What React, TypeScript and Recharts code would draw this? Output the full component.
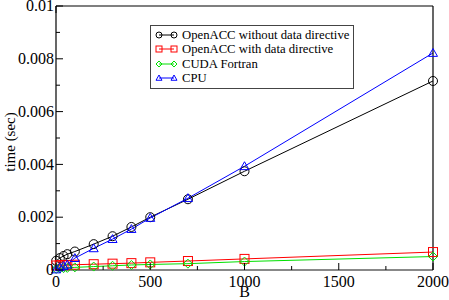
import { Legend, Line, LineChart, XAxis, YAxis } from "recharts";

const B = [1, 20, 40, 60, 100, 200, 300, 400, 500, 700, 1000, 2000];
const noDataDirective = [0.00035, 0.00045, 0.00053, 0.0006, 0.0007, 0.00098, 0.00128, 0.00163, 0.002, 0.00268, 0.00374, 0.00716];
const withDataDirective = [0.00017, 0.00018, 0.00018, 0.00019, 0.0002, 0.00022, 0.00024, 0.00026, 0.00029, 0.00034, 0.00042, 0.00068];
const cudaFortran = [0.00004, 0.00006, 0.00007, 0.00008, 0.0001, 0.00013, 0.00016, 0.00019, 0.00021, 0.00024, 0.00032, 0.00051];
const cpu = [0.00002, 0.0001, 0.00015, 0.0002, 0.00045, 0.00082, 0.00117, 0.00155, 0.00197, 0.00272, 0.00393, 0.00822];

const xMajor = [0, 500, 1000, 1500, 2000];
const xMinor = [250, 750, 1250, 1750];
const yMajor = [0, 0.002, 0.004, 0.006, 0.008, 0.01];
const yMajorLabels = ["0", "0.002", "0.004", "0.006", "0.008", "0.01"];
const yMinor = [0.001, 0.003, 0.005, 0.007, 0.009];

const SERIES = [
  { key: "noData", name: "OpenACC without data directive", color: "#000000", shape: "circle" },
  { key: "withData", name: "OpenACC with data directive", color: "#ff0000", shape: "square" },
  { key: "cuda", name: "CUDA Fortran", color: "#00e000", shape: "diamond" },
  { key: "cpu", name: "CPU", color: "#0000ff", shape: "triangle" }
];

const data = B.map((b, i) => ({
  B: b,
  noData: noDataDirective[i],
  withData: withDataDirective[i],
  cuda: cudaFortran[i],
  cpu: cpu[i]
}));

const FONT = "'Liberation Serif', 'Times New Roman', serif";
const xTicks = [...xMajor, ...xMinor].sort((a, b) => a - b);
const yTicks = [...yMajor, ...yMinor].sort((a, b) => a - b);

function Marker({ shape, color, cx, cy, s }: { shape: string; color: string; cx: number; cy: number; s: number }) {
  if (cx == null || cy == null) return null;
  if (shape === "circle") return <circle cx={cx} cy={cy} r={s} fill="none" stroke={color} strokeWidth={1} />;
  if (shape === "square")
    return <rect x={cx - s} y={cy - s} width={s * 2} height={s * 2} fill="none" stroke={color} strokeWidth={1} />;
  if (shape === "diamond")
    return (
      <polygon
        points={`${cx},${cy - s} ${cx + s},${cy} ${cx},${cy + s} ${cx - s},${cy}`}
        fill="none"
        stroke={color}
        strokeWidth={1}
      />
    );
  return (
    <polygon
      points={`${cx},${cy - s} ${cx + s},${cy + s * 0.75} ${cx - s},${cy + s * 0.75}`}
      fill="none"
      stroke={color}
      strokeWidth={1}
    />
  );
}

const BottomTick = ({ x, y, payload }: any) => {
  const major = xMajor.includes(payload.value);
  return (
    <g>
      <line x1={x} x2={x} y1={y} y2={y - (major ? 7 : 4)} stroke="#000" />
      {major && (
        <text x={x} y={y + 17} textAnchor="middle" fontFamily={FONT} fontSize={16} fill="#000">
          {payload.value}
        </text>
      )}
    </g>
  );
};

const TopTick = ({ x, y, payload }: any) => {
  const major = xMajor.includes(payload.value);
  return <line x1={x} x2={x} y1={y} y2={y + (major ? 7 : 4)} stroke="#000" />;
};

const LeftTick = ({ x, y, payload }: any) => {
  const i = yMajor.indexOf(payload.value);
  return (
    <g>
      <line x1={x} x2={x + (i >= 0 ? 7 : 4)} y1={y} y2={y} stroke="#000" />
      {i >= 0 && (
        <text x={x - 2} y={y} dy="0.33em" textAnchor="end" fontFamily={FONT} fontSize={16} fill="#000">
          {yMajorLabels[i]}
        </text>
      )}
    </g>
  );
};

const RightTick = ({ x, y, payload }: any) => {
  const major = yMajor.includes(payload.value);
  return <line x1={x} x2={x - (major ? 7 : 4)} y1={y} y2={y} stroke="#000" />;
};

const LegendBox = () => (
  <div
    style={{
      border: "1px solid #444",
      background: "#fff",
      padding: "2px 4px 3px 4px",
      fontFamily: FONT,
      fontSize: 12.7,
      lineHeight: "14.3px",
      color: "#000"
    }}
  >
    {SERIES.map((s) => (
      <div key={s.key} style={{ display: "flex", alignItems: "center", whiteSpace: "nowrap" }}>
        <svg width={24} height={14} style={{ marginRight: 3 }}>
          <line x1={4} x2={19} y1={7} y2={7} stroke={s.color} />
          <Marker shape={s.shape} color={s.color} cx={4} cy={7} s={3} />
          <Marker shape={s.shape} color={s.color} cx={19} cy={7} s={3} />
        </svg>
        <span>{s.name}</span>
      </div>
    ))}
  </div>
);

export default function App() {
  return (
    <div style={{ position: "fixed", left: 0, top: 0, width: 449, height: 300, background: "#fff" }}>
      <LineChart width={449} height={300} data={data} margin={{ top: 0, right: 0, bottom: 0, left: 0 }}>
        <XAxis
          dataKey="B"
          type="number"
          domain={[0, 2000]}
          ticks={xTicks}
          interval={0}
          height={30}
          tickSize={0}
          tickMargin={0}
          tick={BottomTick}
          axisLine={{ stroke: "#888", strokeWidth: 2 }}
          tickLine={false}
          label={({ viewBox }: any) => (
            <text
              x={viewBox.x + viewBox.width / 2}
              y={viewBox.y + 27}
              textAnchor="middle"
              fontFamily={FONT}
              fontSize={16}
              fill="#000"
            >
              B
            </text>
          )}
        />
        <XAxis
          xAxisId="top"
          orientation="top"
          type="number"
          domain={[0, 2000]}
          ticks={xTicks}
          interval={0}
          height={6}
          tickSize={0}
          tickMargin={0}
          tick={TopTick}
          axisLine={{ stroke: "#000", strokeWidth: 1.2 }}
          tickLine={false}
        />
        <YAxis
          type="number"
          domain={[0, 0.01]}
          ticks={yTicks}
          interval={0}
          width={56}
          tickSize={0}
          tickMargin={0}
          tick={LeftTick}
          axisLine={{ stroke: "#000", strokeWidth: 1.2 }}
          tickLine={false}
          label={({ viewBox }: any) => {
            const cx = 10;
            const cy = viewBox.y + viewBox.height / 2 + 4;
            return (
              <text
                x={cx}
                y={cy}
                transform={`rotate(-90 ${cx} ${cy})`}
                textAnchor="middle"
                dominantBaseline="central"
                fontFamily={FONT}
                fontSize={15}
                fill="#000"
              >
                time (sec)
              </text>
            );
          }}
        />
        <YAxis
          yAxisId="right"
          orientation="right"
          type="number"
          domain={[0, 0.01]}
          ticks={yTicks}
          interval={0}
          width={16}
          tickSize={0}
          tickMargin={0}
          tick={RightTick}
          axisLine={{ stroke: "#000", strokeWidth: 1.2 }}
          tickLine={false}
        />
        <Legend
          layout="vertical"
          align="center"
          verticalAlign="middle"
          content={LegendBox}
          wrapperStyle={{ left: 150, top: 25, width: "auto", height: "auto" }}
        />
        {SERIES.map((s) => (
          <Line
            key={s.key}
            dataKey={s.key}
            name={s.name}
            stroke={s.color}
            strokeWidth={1}
            isAnimationActive={false}
            dot={(p: any) => <Marker key={`${s.key}-${p.index}`} shape={s.shape} color={s.color} cx={p.cx} cy={p.cy} s={4.5} />}
            activeDot={false}
          />
        ))}
      </LineChart>
    </div>
  );
}
